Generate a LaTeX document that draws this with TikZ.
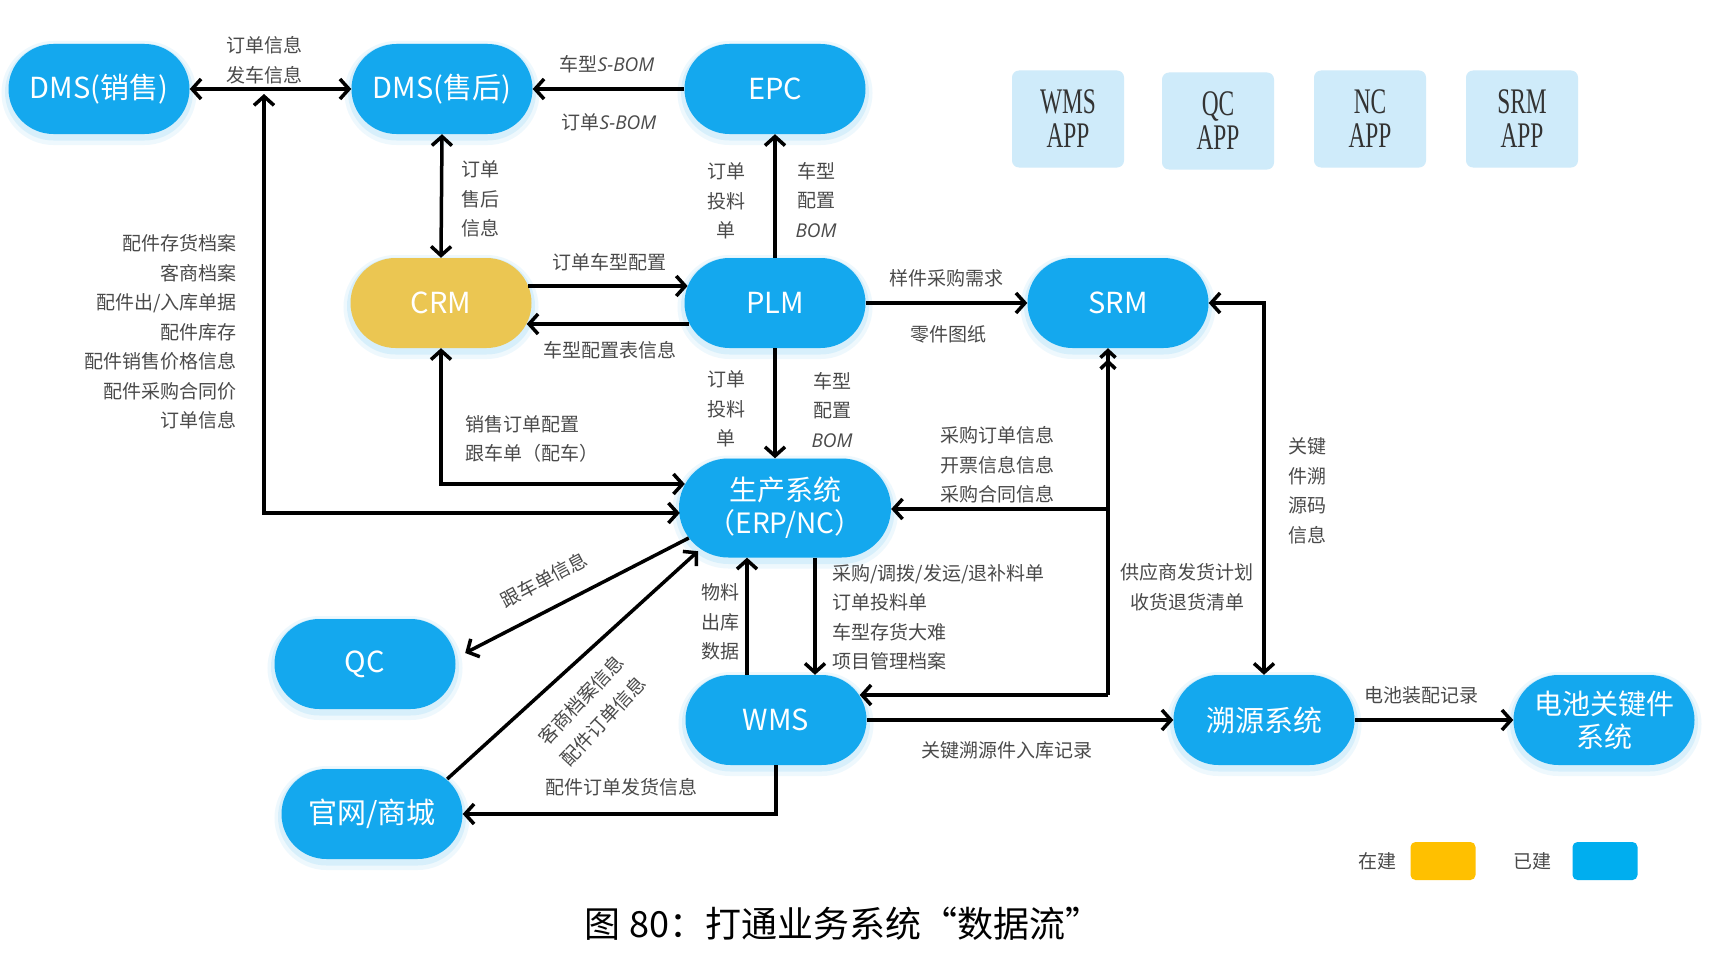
\documentclass[tikz,border=0pt]{standalone}
\usepackage{fontspec}
\setmainfont{Noto Sans CJK SC}
\newfontfamily\latit{Open Sans}
\newfontfamily\appfont{Liberation Serif}[FakeStretch=0.65]
\usetikzlibrary{arrows.meta,calc}
\definecolor{nodeblue}{HTML}{14A8EE}
\definecolor{crmyellow}{HTML}{EBC652}
\definecolor{legorange}{HTML}{FFC000}
\definecolor{legblue}{HTML}{00AEEF}
\definecolor{appblue}{HTML}{CFEBFA}
\definecolor{labelgray}{HTML}{4A4A4A}
\newcommand{\bom}[1]{{\latit\itshape #1}}
\tikzset{
  sys/.style={rounded corners=45pt, fill=nodeblue, minimum width=181pt, minimum height=90pt,
    text=white, font=\fontsize{29}{33}\selectfont, align=center, inner sep=0pt,
    preaction={draw=nodeblue, draw opacity=0.07, line width=14pt, transform canvas={yshift=-4pt}},
    preaction={draw=nodeblue, draw opacity=0.10, line width=7pt, transform canvas={yshift=-3pt}}},
  bigsys/.style={sys, rounded corners=49.5pt, minimum width=212pt, minimum height=99pt, font=\fontsize{28}{33}\selectfont},
  lbl/.style={text=labelgray, font=\fontsize{19}{29.5}\selectfont, inner sep=0pt, align=center},
  app/.style={fill=appblue, rounded corners=7pt, minimum width=112pt, minimum height=97pt,
    inner sep=0pt, align=center, text=black!80, font=\appfont\fontsize{36}{34}\selectfont},
  legbox/.style={rounded corners=5pt, minimum width=65pt, minimum height=38pt, inner sep=0pt},
  arr/.style={line width=3.5pt, draw=black},
  >={Straight Barb[length=9pt,width=20pt]},
  dblhead/.style={-{Straight Barb[length=7pt,width=15pt] Straight Barb[length=7pt,width=15pt]}}
}
\begin{document}
\begin{tikzpicture}[x=1pt,y=-1pt]
\fill[white] (0,0) rectangle (1724,974);
\useasboundingbox (0,0) rectangle (1724,974);

% systems
\node[sys] (dmss) at (99,89) {DMS(销售)};
\node[sys] (dmsh) at (442,89) {DMS(售后)};
\node[sys] (epc) at (775,89) {EPC};
\node[sys, fill=crmyellow] (crm) at (441,303) {CRM};
\node[sys] (plm) at (775,303) {PLM};
\node[sys] (srm) at (1118,303) {SRM};
\node[bigsys] (erp) at (785,508) {生产系统\\（ERP/NC）};
\node[sys] (qc) at (365,664) {QC};
\node[sys] (wms) at (776,720) {WMS};
\node[sys] (gw) at (372,814) {官网/商城};
\node[sys] (sy) at (1264,720) {溯源系统};
\node[sys, font=\fontsize{28}{33}\selectfont] (dc) at (1604,720) {电池关键件\\系统};

% app boxes
\node[app] (wmsapp) at (1068,119) {WMS\\APP};
\node[app] (qcapp) at (1218,121) {QC\\APP};
\node[app] (ncapp) at (1370,119) {NC\\APP};
\node[app] (srmapp) at (1522,119) {SRM\\APP};

% connectors
\draw[arr,<->] (dmss.east) -- (dmsh.west);
\coordinate (c2top) at (264,94);
\draw[arr,<->] (c2top) |- ($(erp.west)+(1,5)$);
\draw[arr,<->] (dmsh.south) -- (crm.north);
\draw[arr,->] (epc.west) -- (dmsh.east);
\draw[arr,->] (plm.north) -- (epc.south);
\draw[arr,->] ($(crm.east)+(-3.3,-17)$) -- ($(plm.west)+(3.3,-17)$);
\draw[arr,->] ($(plm.west)+(5,21)$) -- ($(crm.east)+(-5,21)$);
\draw[arr,->] (plm.east) -- (srm.west);
\draw[arr,->] (plm.south) -- (plm.south |- erp.north);
\draw[arr,<->] (crm.south) |- ($(erp.west)+(6,-24)$);
\coordinate (j1) at (1108,509);
\coordinate (j2) at (1108,695);
\draw[arr,dblhead] (j2) -- (j2 |- srm.south);
\draw[arr,->] (j1) -- (erp.east |- j1);
\draw[arr,->] (j2) -- ($(wms.east)+(-7,-25)$);
\draw[arr,<->] (srm.east) -| (sy.north);
\draw[arr,->] ($(erp.south)+(30,0)$) -- ($(wms.north)+(39,0)$);
\draw[arr,->] ($(wms.north)+(-29,0)$) -- ($(erp.south)+(-38,0)$);
\draw[arr,->] ($(erp.west)+(10,30)$) -- ($(qc.east)+(9.5,-11)$);
\draw[arr,->] ($(gw.east)+(-15.5,-35)$) -- ($(erp.south)+(-87,-6.5)$);
\draw[arr,->] (wms.south) |- (gw.east);
\draw[arr,->] (wms.east) -- (sy.west);
\draw[arr,->] (sy.east) -- (dc.west);

% labels
\node[lbl] (l1) at (264,60) {订单信息\\发车信息};
\node[lbl] (l2) at (607,64) {车型\bom{S-BOM}};
\node[lbl] (l3) at (609,122) {订单\bom{S-BOM}};
\node[lbl] (l4) at (480,199) {订单\\售后\\信息};
\node[lbl] (l5) at (726,201) {订单\\投料\\单};
\node[lbl] (l6) at (816,200) {车型\\配置\\\bom{BOM}};
\node[lbl, anchor=east, align=right] (l7) at (237,332) {配件存货档案\\客商档案\\配件出/入库单据\\配件库存\\配件销售价格信息\\配件采购合同价\\订单信息};
\node[lbl] (l8) at (609,262) {订单车型配置};
\node[lbl] (l9) at (610,350) {车型配置表信息};
\node[lbl] (l10) at (946,278) {样件采购需求};
\node[lbl] (l11) at (948,334) {零件图纸};
\node[lbl] (l12) at (726,409) {订单\\投料\\单};
\node[lbl] (l13) at (832,410) {车型\\配置\\\bom{BOM}};
\node[lbl, anchor=west, align=left] (l14) at (465,439) {销售订单配置\\跟车单（配车）};
\node[lbl] (l15) at (997,465) {采购订单信息\\开票信息信息\\采购合同信息};
\node[lbl] (l16) at (1307,491) {关键\\件溯\\源码\\信息};
\node[lbl] (l17) at (1187,587) {供应商发货计划\\收货退货清单};
\node[lbl, anchor=west, align=left] (l18) at (832,617) {采购/调拨/发运/退补料单\\订单投料单\\车型存货大难\\项目管理档案};
\node[lbl] (l19) at (720,622) {物料\\出库\\数据};
\node[lbl, rotate=28] (l20) at (544,580) {跟车单信息};
\node[lbl, rotate=47] (l21a) at (581,700) {客商档案信息};
\node[lbl, rotate=47] (l21b) at (603,721) {配件订单信息};
\node[lbl] (l22) at (621,787) {配件订单发货信息};
\node[lbl] (l23) at (1007,750) {关键溯源件入库记录};
\node[lbl] (l24) at (1421,695) {电池装配记录};

% legend
\node[lbl] (lz) at (1377,861) {在建};
\node[legbox, fill=legorange] (lzbox) at (1443,861) {};
\node[lbl] (ly) at (1532,861) {已建};
\node[legbox, fill=legblue] (lybox) at (1605,861) {};

% caption
\node[font=\fontsize{36}{40}\selectfont, inner sep=0pt] (cap) at (843,924) {图 80：打通业务系统“数据流”};
\end{tikzpicture}
\end{document}
